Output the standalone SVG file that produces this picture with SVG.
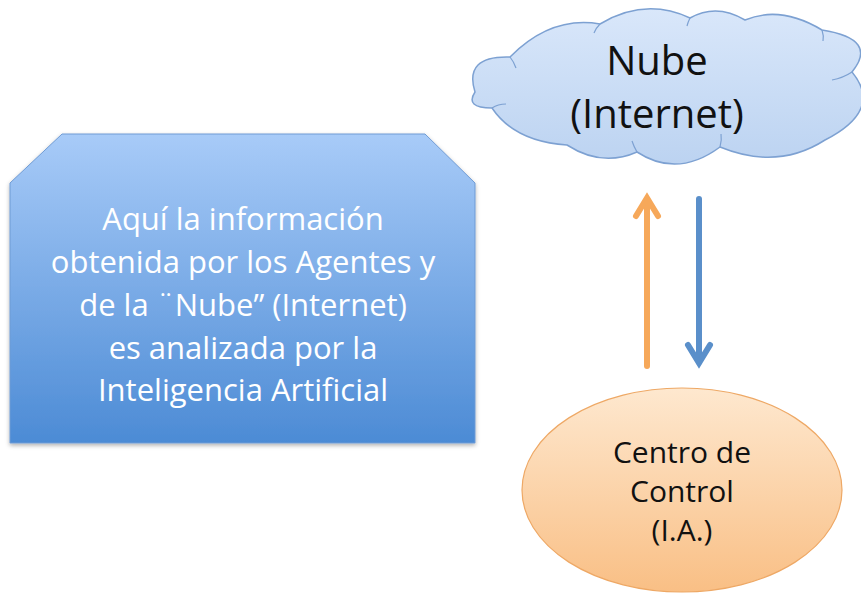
<svg xmlns="http://www.w3.org/2000/svg" width="861" height="594" viewBox="0 0 861 594">
<defs>
<linearGradient id="gBox" x1="0" y1="0" x2="0" y2="1">
<stop offset="0" stop-color="#a8cbf8"/>
<stop offset="1" stop-color="#4c8bd5"/>
</linearGradient>
<linearGradient id="gCloud" x1="0" y1="0" x2="0" y2="1">
<stop offset="0" stop-color="#d9e7fa"/>
<stop offset="1" stop-color="#bcd3f1"/>
</linearGradient>
<linearGradient id="gEll" x1="0" y1="0" x2="0" y2="1">
<stop offset="0" stop-color="#fee8cf"/>
<stop offset="1" stop-color="#f9bf85"/>
</linearGradient>
<filter id="shadow" x="-10%" y="-10%" width="120%" height="120%">
<feDropShadow dx="0" dy="2" stdDeviation="2" flood-color="#000" flood-opacity="0.3"/>
</filter>
</defs>
<style>
.t{font-family:"Open Sans","DejaVu Sans",sans-serif;text-anchor:middle}
.white{fill:#ffffff;font-size:31px}
.dark{fill:#111111}
.arrow{fill:none;stroke-width:6;stroke-linejoin:miter;stroke-linecap:round}
</style>
<rect width="861" height="594" fill="#ffffff"/>
<g id="node-box">
<polygon points="62,134 425,134 475,183 475,443 10,443 10,183" fill="url(#gBox)" stroke="#6f9bd4" stroke-width="1" filter="url(#shadow)"/>
<text class="t white" x="243" y="230">Aquí la información</text>
<text class="t white" x="243" y="273">obtenida por los Agentes y</text>
<text class="t white" x="243" y="316">de la ¨Nube” (Internet)</text>
<text class="t white" x="243" y="359">es analizada por la</text>
<text class="t white" x="243" y="401">Inteligencia Artificial</text>
</g>
<g id="node-cloud">
<path d="M475,92 Q463.5,55.5 510,57 Q551,15.5 600,24 Q645,-3 690,18 Q716.5,3 745,20 Q780.5,5 822,30 Q879,39 852,72 Q883.5,110 825,140 Q777.5,170.5 720,147 Q677.5,178.5 637,152 Q602,167.5 567,145 Q514.5,141.5 492,108 Q464.5,108 475,92 Z" fill="url(#gCloud)" stroke="#7da1d2" stroke-width="1.5"/>
<g fill="none" stroke="#7da1d2" stroke-width="1.2">
<path d="M492,108 Q498,104 506,104"/>
<path d="M510,57 Q514,62 516,68"/>
<path d="M600,24 Q596,28 594,33"/>
<path d="M690,18 Q688,22 687,26"/>
<path d="M822,30 Q824,36 823,41"/>
<path d="M852,72 Q843,78 832,80"/>
<path d="M720,147 Q722,140 721,134"/>
<path d="M637,152 Q634,147 632,141"/>
</g>
<text class="t dark" x="657" y="75" font-size="40">Nube</text>
<text class="t dark" x="657" y="128" font-size="40">(Internet)</text>
</g>
<g id="node-control">
<ellipse cx="682" cy="490" rx="160" ry="102" fill="url(#gEll)" stroke="#eea865" stroke-width="1.2"/>
<text class="t dark" x="682" y="463" font-size="30">Centro de</text>
<text class="t dark" x="682" y="502" font-size="30">Control</text>
<text class="t dark" x="682" y="541" font-size="30">(I.A.)</text>
</g>
<g id="connectors">
<g stroke="#f6a85a" class="arrow">
<line x1="647" y1="366" x2="647" y2="200"/>
<polyline points="636,216 647,198 658,216"/>
</g>
<g stroke="#5a8fca" class="arrow">
<line x1="699" y1="199" x2="699" y2="362"/>
<polyline points="688,345 699,363 710,345"/>
</g>
</g>
</svg>
